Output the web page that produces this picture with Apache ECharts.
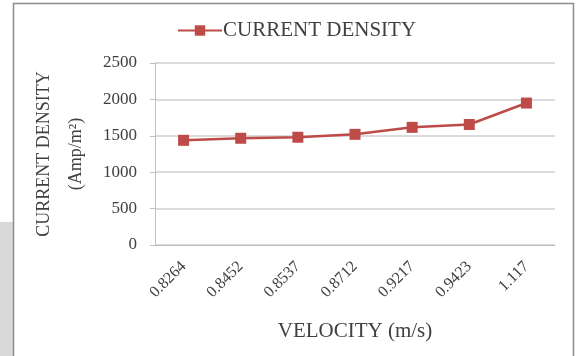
<!DOCTYPE html>
<html>
<head>
<meta charset="utf-8">
<script src="https://cdn.jsdelivr.net/npm/echarts@6/dist/echarts.min.js"></script>
<style>
  html, body { margin: 0; padding: 0; background: #fff; }
  #chart { width: 576px; height: 356px; }
</style>
</head>
<body>
<div id="chart"></div>
<script>
// Current density vs velocity
const velocities = ["0.8264", "0.8452", "0.8537", "0.8712", "0.9217", "0.9423", "1.117"];
const currentDensity = [1438, 1466, 1480, 1520, 1616, 1655, 1950];
const yTicks = [0, 500, 1000, 1500, 2000, 2500];

const font = "'Liberation Serif', 'DejaVu Serif', serif";

const option = {
  animation: false,
  backgroundColor: "#ffffff",
  graphic: [
    {
      type: "rect",
      shape: { x: 0, y: 222, width: 13, height: 134 },
      style: { fill: "#d9d9d9" },
      silent: true
    },
    {
      type: "rect",
      shape: { x: 13.5, y: 3.5, width: 560, height: 360 },
      style: { fill: "none", stroke: "#8c8c8c", lineWidth: 1.5 },
      silent: true
    }
  ],
  legend: {
    top: 15,
    left: 172,
    itemWidth: 44,
    itemHeight: 13,
    itemGap: 2,
    textStyle: { fontFamily: font, fontSize: 21, color: "#404040", padding: [0, 0, 0, -4] },
    data: ["CURRENT DENSITY"]
  },
  grid: {
    left: 155,
    right: 21,
    top: 63,
    bottom: 111
  },
  xAxis: {
    type: "category",
    data: velocities,
    name: "VELOCITY (m/s)",
    nameLocation: "middle",
    nameGap: 76,
    nameTextStyle: { fontFamily: font, fontSize: 21, color: "#404040" },
    axisLine: { lineStyle: { color: "#bfbfbf" } },
    axisTick: { show: false },
    axisLabel: {
      rotate: 45,
      margin: 19,
      fontFamily: font,
      fontSize: 16,
      color: "#404040",
      interval: 0
    }
  },
  yAxis: {
    type: "value",
    min: 0,
    max: 2500,
    interval: 500,
    name: "CURRENT DENSITY\n(Amp/m²)",
    nameLocation: "middle",
    nameGap: 55,
    nameTextStyle: { fontFamily: font, fontSize: 18, color: "#404040", lineHeight: 32 },
    axisLine: { show: true, lineStyle: { color: "#bfbfbf" } },
    axisTick: { show: true, length: 5, lineStyle: { color: "#bfbfbf" } },
    axisLabel: {
      margin: 18,
      fontFamily: font,
      fontSize: 17,
      color: "#404040",
      formatter: (v) => (yTicks.includes(v) ? String(v) : "")
    },
    splitLine: { lineStyle: { color: "#cfcfcf", width: 1.5 } }
  },
  series: [
    {
      name: "CURRENT DENSITY",
      type: "line",
      data: currentDensity,
      symbol: "rect",
      symbolSize: 11,
      itemStyle: { color: "#be4b48" },
      lineStyle: { color: "#be4b48", width: 2.5 }
    }
  ]
};

const chart = echarts.init(document.getElementById("chart"));
chart.setOption(option);
window.addEventListener("resize", () => chart.resize());
</script>
</body>
</html>
